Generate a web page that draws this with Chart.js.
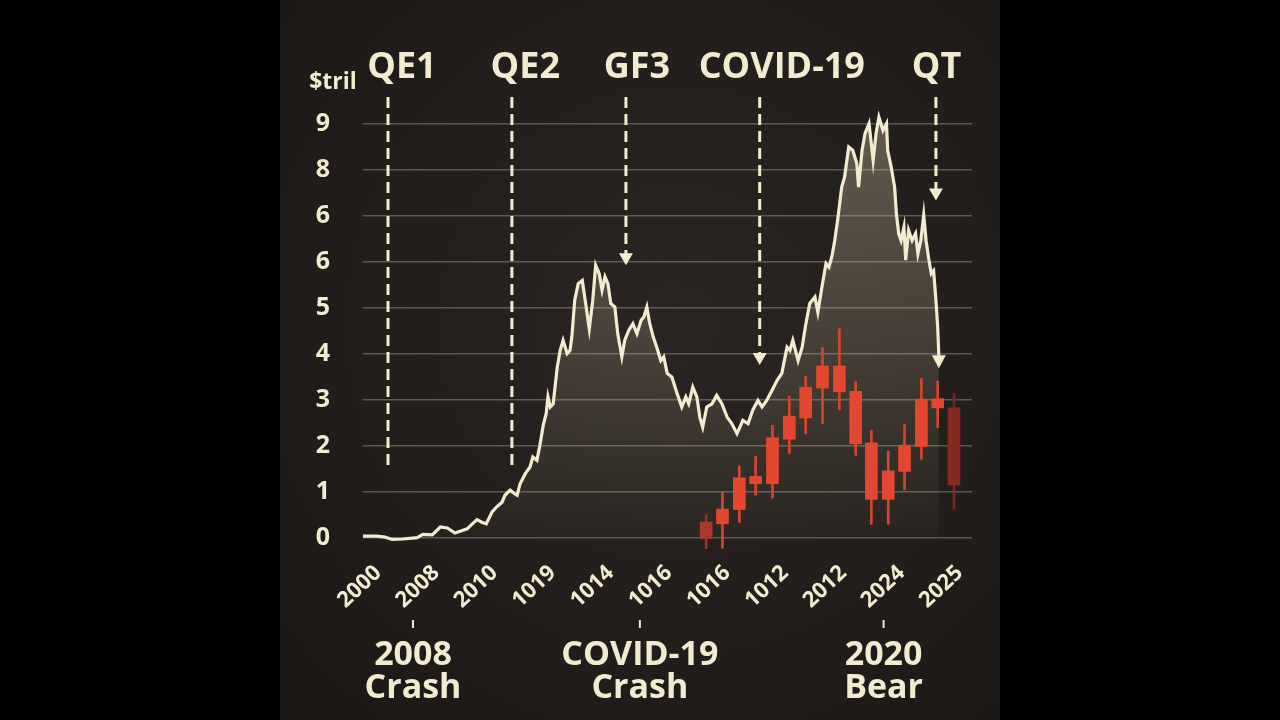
<!DOCTYPE html>
<html lang="en">
<head>
<meta charset="UTF-8">
<title>$tril balance sheet</title>
<script src="https://cdn.jsdelivr.net/npm/chart.js"></script>
<style>
  html, body { margin: 0; padding: 0; background: #000; width: 1280px; height: 720px; overflow: hidden; }
  #panel {
    position: absolute; left: 280px; top: 0; width: 720px; height: 720px;
    background: radial-gradient(ellipse at 55% 45%, #2a2522 0%, #221e1b 55%, #1a1715 100%);
  }
  canvas { display: block; }
</style>
</head>
<body>
<div id="panel"><canvas id="chart" width="720" height="720"></canvas></div>
<script>
// tick labels (as printed on the picture)
const xTickLabels = ['2000', '2008', '2010', '1019', '1014', '1016', '1016', '1012', '2012', '2024', '2025'];
const yTickLabels = ['0', '1', '2', '3', '4', '5', '6', '6', '8', '9'];

// main line, x in tick units (0 = first label, 10 = last label), y in $tril
const lineX = [-0.26, -0.02, 0.12, 0.24, 0.43, 0.67, 0.77, 0.93, 1.07, 1.19, 1.32, 1.41, 1.53, 1.62, 1.70, 1.79, 1.86, 1.96,
  2.04, 2.13, 2.18, 2.27, 2.34, 2.39, 2.44, 2.53, 2.61, 2.66, 2.73, 2.78, 2.84, 2.89, 2.92, 2.96, 3.01, 3.08, 3.13, 3.18,
  3.25, 3.30, 3.33, 3.38, 3.44, 3.51, 3.56, 3.63, 3.69, 3.74, 3.80, 3.85, 3.90, 3.95, 4.00, 4.07, 4.12, 4.19, 4.24, 4.31,
  4.38, 4.45, 4.52, 4.57, 4.62, 4.67, 4.73, 4.79, 4.86, 4.91, 4.97, 5.05, 5.14, 5.22, 5.29, 5.34, 5.41, 5.48, 5.53, 5.58,
  5.65, 5.74, 5.82, 5.91, 6.00, 6.08, 6.17, 6.22, 6.27, 6.36, 6.44, 6.53, 6.60, 6.68, 6.77, 6.86, 6.94, 7.03, 7.08, 7.13,
  7.22, 7.29, 7.35, 7.42, 7.51, 7.56, 7.63, 7.70, 7.75, 7.80, 7.85, 7.90, 7.97, 8.02, 8.09, 8.16, 8.23, 8.26, 8.32, 8.37,
  8.44, 8.51, 8.56, 8.61, 8.68, 8.74, 8.76, 8.82, 8.88, 8.91, 8.95, 8.99, 9.04, 9.07, 9.12, 9.18, 9.24, 9.28, 9.33, 9.38,
  9.42, 9.47, 9.51, 9.55, 9.59, 9.62, 9.64];
const lineY = [0.03, 0.03, 0.01, -0.04, -0.03, 0.00, 0.07, 0.06, 0.23, 0.21, 0.10, 0.14, 0.19, 0.30, 0.39, 0.33, 0.30, 0.56,
  0.67, 0.77, 0.92, 1.03, 0.96, 0.92, 1.17, 1.39, 1.53, 1.75, 1.68, 2.00, 2.45, 2.70, 3.06, 2.84, 2.91, 3.71, 4.07, 4.29,
  4.00, 4.07, 4.36, 5.16, 5.52, 5.59, 5.16, 4.54, 5.16, 5.92, 5.74, 5.38, 5.67, 5.52, 5.09, 5.01, 4.43, 3.93, 4.29, 4.51,
  4.65, 4.43, 4.72, 4.80, 5.01, 4.65, 4.36, 4.14, 3.85, 3.93, 3.57, 3.49, 3.13, 2.84, 3.06, 2.91, 3.27, 3.06, 2.62, 2.40,
  2.84, 2.91, 3.09, 2.91, 2.62, 2.48, 2.26, 2.40, 2.55, 2.48, 2.77, 2.98, 2.84, 2.98, 3.20, 3.42, 3.57, 4.14, 4.07, 4.29,
  3.85, 4.14, 4.62, 5.09, 5.23, 4.90, 5.45, 5.96, 5.88, 6.10, 6.46, 6.90, 7.62, 7.84, 8.49, 8.42, 8.13, 7.62, 8.42, 8.78,
  9.00, 8.20, 8.78, 9.14, 8.85, 9.00, 8.42, 8.06, 7.62, 7.04, 6.61, 6.46, 6.75, 6.03, 6.68, 6.46, 6.61, 6.17, 6.46, 7.01,
  6.46, 6.03, 5.74, 5.80, 5.16, 4.58, 3.95];
const lineArrowTip = 3.68;

// candles
const candleX = [5.64, 5.92, 6.21, 6.49, 6.78, 7.07, 7.35, 7.64, 7.93, 8.21, 8.48, 8.77, 9.05, 9.34, 9.62, 9.90];
const candleOpen = [-0.02, 0.30, 0.61, 1.17, 1.17, 2.14, 2.60, 3.25, 3.17, 3.18, 2.06, 1.45, 1.44, 1.98, 3.02, 2.82];
const candleClose = [0.34, 0.62, 1.30, 1.33, 2.17, 2.64, 3.27, 3.73, 3.73, 2.04, 0.83, 0.83, 2.01, 3.01, 2.82, 1.14];
const candleHigh = [0.50, 0.99, 1.56, 1.77, 2.44, 3.07, 3.51, 4.13, 4.54, 3.40, 2.33, 1.88, 2.46, 3.46, 3.40, 3.14];
const candleLow = [-0.24, -0.23, 0.33, 0.92, 0.86, 1.83, 2.26, 2.48, 2.78, 1.79, 0.29, 0.29, 1.04, 1.70, 2.39, 0.61];
const candleShade = ['dim', 'bright', 'bright', 'bright', 'bright', 'bright', 'bright', 'bright', 'bright', 'bright',
  'bright', 'bright', 'bright', 'bright', 'bright', 'dark'];

// event markers on top
const events = ['QE1', 'QE2', 'GF3', 'COVID-19', 'QT'];
const eventX = [0.17, 2.30, 4.26, 6.56, 9.59];
const eventLabelX = [0.41, 2.53, 4.45, 6.94, 9.60];
const eventEndY = [1.53, 1.53, 5.92, 3.75, 7.33];
const eventArrow = [false, false, true, true, true];

// notes under the axis
const crashLabels = [['2008', 'Crash'], ['COVID-19', 'Crash'], ['2020', 'Bear']];
const crashX = [0.60, 4.50, 8.69];

const CREAM = '#f3ebcf';
const bodyColors = { dim: '#a63a2c', bright: '#e4472f', dark: '#862a21' };
const wickColors = { dim: '#983428', bright: '#d8442e', dark: '#7a271f' };

function arrowDown(ctx, x, tipY, hw, h) {
  ctx.beginPath();
  ctx.moveTo(x - hw, tipY - h);
  ctx.lineTo(x + hw, tipY - h);
  ctx.lineTo(x, tipY);
  ctx.closePath();
  ctx.fill();
}

const annotations = {
  id: 'annotations',
  afterDatasetsDraw(chart) {
    const { ctx, chartArea, scales: { x, y } } = chart;
    ctx.save();
    ctx.strokeStyle = CREAM;
    ctx.fillStyle = CREAM;
    ctx.lineWidth = 3;
    events.forEach((ev, i) => {
      const px = x.getPixelForValue(eventX[i]);
      const endY = y.getPixelForValue(eventEndY[i]);
      ctx.setLineDash([11, 6]);
      ctx.beginPath();
      ctx.moveTo(px, chartArea.top + 1);
      ctx.lineTo(px, eventArrow[i] ? endY - 10 : endY);
      ctx.stroke();
      ctx.setLineDash([]);
      if (eventArrow[i]) arrowDown(ctx, px, endY, 7, 12);
    });
    // arrow at the end of the main line
    const meta = chart.getDatasetMeta(0);
    const last = meta.data[meta.data.length - 1];
    arrowDown(ctx, last.x, y.getPixelForValue(lineArrowTip), 7, 13);
    ctx.restore();
  },
  afterDraw(chart) {
    const { ctx, scales: { x } } = chart;
    ctx.save();
    ctx.fillStyle = CREAM;
    ctx.textAlign = 'center';
    ctx.textBaseline = 'middle';
    ctx.font = 'bold 36px "Open Sans"';
    events.forEach((ev, i) => ctx.fillText(ev, x.getPixelForValue(eventLabelX[i]), 68));
    ctx.font = 'bold 23px "Open Sans"';
    ctx.fillText('$tril', 53, 82);
    ctx.font = 'bold 34px "Open Sans"';
    ctx.strokeStyle = CREAM;
    ctx.lineWidth = 2;
    crashLabels.forEach((lines, i) => {
      const px = x.getPixelForValue(crashX[i]);
      ctx.beginPath();
      ctx.moveTo(px, 620);
      ctx.lineTo(px, 628);
      ctx.stroke();
      ctx.fillText(lines[0], px, 655);
      ctx.fillText(lines[1], px, 688);
    });
    ctx.restore();
  }
};

new Chart(document.getElementById('chart'), {
  type: 'line',
  data: {
    datasets: [
      {
        type: 'line',
        data: lineX.map((v, i) => ({ x: v, y: lineY[i] })),
        borderColor: CREAM,
        borderWidth: 3.2,
        borderJoinStyle: 'miter',
        pointRadius: 0,
        tension: 0,
        fill: 'origin',
        backgroundColor: ctx => {
          const a = ctx.chart.chartArea;
          if (!a) return 'rgba(0,0,0,0)';
          const g = ctx.chart.ctx.createLinearGradient(0, a.top, 0, a.bottom);
          g.addColorStop(0, 'rgba(222,204,170,0.36)');
          g.addColorStop(1, 'rgba(222,204,170,0.02)');
          return g;
        },
        order: 3
      },
      {
        type: 'bar',
        data: candleX.map((v, i) => ({ x: v, y: [candleLow[i], candleHigh[i]] })),
        backgroundColor: candleShade.map(s => wickColors[s]),
        barThickness: 2,
        grouped: false,
        order: 2
      },
      {
        type: 'bar',
        data: candleX.map((v, i) => ({ x: v, y: [Math.min(candleOpen[i], candleClose[i]), Math.max(candleOpen[i], candleClose[i])] })),
        backgroundColor: candleShade.map(s => bodyColors[s]),
        barThickness: 12,
        grouped: false,
        order: 1
      }
    ]
  },
  options: {
    responsive: false,
    devicePixelRatio: 1,
    animation: false,
    layout: { padding: { left: 0, right: 28, top: 96, bottom: 0 } },
    plugins: { legend: { display: false }, tooltip: { enabled: false } },
    scales: {
      x: {
        type: 'linear',
        min: -0.26,
        max: 10.21,
        offset: false,
        afterBuildTicks: s => { s.ticks = xTickLabels.map((l, i) => ({ value: i })); },
        afterFit: s => { s.height = 164; },
        grid: { display: false, drawTicks: false },
        border: { display: false },
        ticks: {
          autoSkip: false,
          minRotation: 43,
          maxRotation: 43,
          padding: 4,
          color: CREAM,
          font: { family: 'Open Sans', weight: 'bold', size: 22 },
          callback: (v, i) => xTickLabels[i]
        }
      },
      y: {
        min: -0.4,
        max: 9.6,
        afterBuildTicks: s => { s.ticks = yTickLabels.map((l, i) => ({ value: i })); },
        afterFit: s => { s.width = 83; },
        grid: { color: 'rgba(190,184,172,0.38)', lineWidth: 1.5, drawTicks: false },
        border: { display: false },
        ticks: {
          padding: 33,
          color: CREAM,
          font: { family: 'Open Sans', weight: 'bold', size: 25 },
          callback: (v, i) => yTickLabels[i]
        }
      }
    }
  },
  plugins: [annotations]
});
</script>
</body>
</html>
